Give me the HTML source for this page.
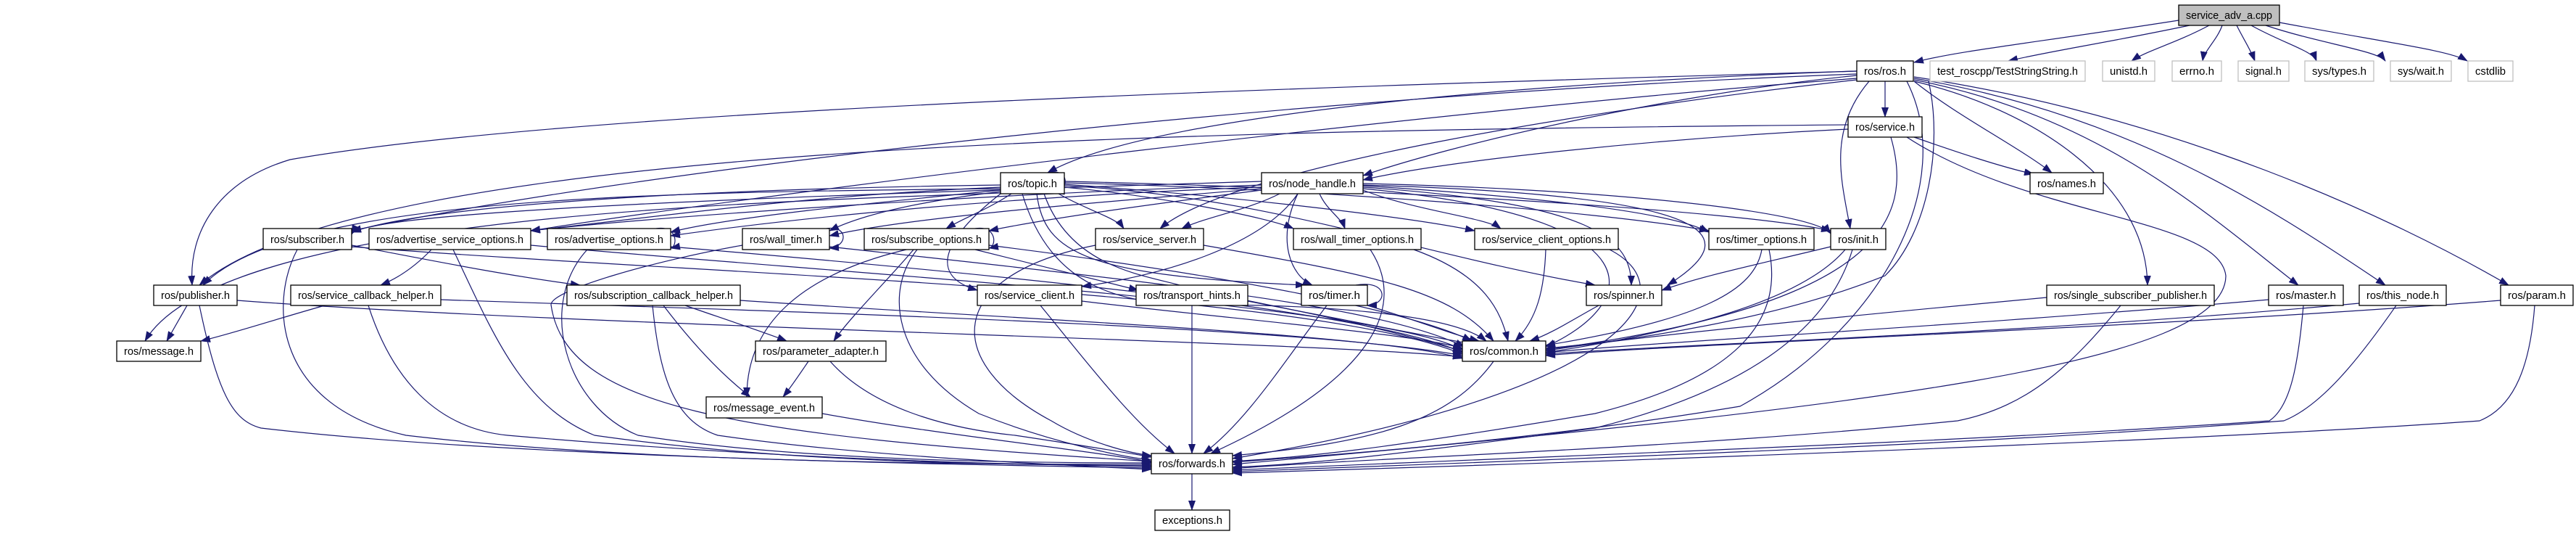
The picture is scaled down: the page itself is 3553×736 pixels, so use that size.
<!DOCTYPE html>
<html><head><meta charset="utf-8"><style>
html,body{margin:0;padding:0;background:#fff;}
svg{display:block;}
text{font-family:"Liberation Sans",sans-serif;font-size:15px;fill:#000;}
.e{fill:none;stroke:#191970;stroke-width:1.2;marker-end:url(#a);}
.n{fill:#fff;stroke:#000;stroke-width:1.3;}
.g{fill:#fff;stroke:#bfbfbf;stroke-width:1.3;}
</style></head><body>
<svg width="3553" height="736" viewBox="0 0 3553 736" xmlns="http://www.w3.org/2000/svg">
<defs><marker id="a" markerWidth="14" markerHeight="10" refX="13" refY="5" orient="auto" markerUnits="userSpaceOnUse"><path d="M0,0 L14,5 L0,10 z" fill="#191970"/></marker></defs>
<g>
<!-- service_adv edges -->
<path class="e" d="M3005 28 C2800 60 2700 70 2640 86"/>
<path class="e" d="M3020 35 C2900 60 2830 70 2770 84"/>
<path class="e" d="M3047 35 C3000 60 2960 70 2940 84"/>
<path class="e" d="M3065 35 C3058 55 3040 70 3038 84"/>
<path class="e" d="M3085 35 C3095 55 3105 70 3110 84"/>
<path class="e" d="M3105 35 C3150 60 3190 70 3195 84"/>
<path class="e" d="M3125 35 C3200 60 3280 70 3290 84"/>
<path class="e" d="M3144 31 C3300 60 3380 70 3403 84"/>
<!-- ros.h edges -->
<path class="e" d="M2600 112 L2600 161"/>
<path class="e" d="M2640 112 C2700 160 2780 200 2830 238"/>
<path class="e" d="M2578 112 C2520 180 2540 250 2552 315"/>
<path class="e" d="M2561 98 C2200 110 1600 150 1445 238"/>
<path class="e" d="M2561 104 C2300 130 2000 200 1880 242"/>
<path class="e" d="M2561 98 C1800 120 800 150 400 220 C300 250 260 320 265 393"/>
<path class="e" d="M2561 102 C1800 130 900 230 485 318"/>
<path class="e" d="M2561 108 C2000 150 1100 260 732 318"/>
<path class="e" d="M2561 110 C2200 150 1700 230 1600 315"/>
<path class="e" d="M2640 112 C2800 150 2960 250 2962 393"/>
<path class="e" d="M2640 110 C2900 160 3050 300 3170 393"/>
<path class="e" d="M2640 108 C2950 160 3150 300 3290 393"/>
<path class="e" d="M2640 106 C3000 160 3300 300 3460 393"/>
<path class="e" d="M2660 112 C2680 200 2660 320 2600 380 C2450 440 2250 470 2132 480"/>
<path class="e" d="M2630 112 C2700 250 2600 450 2400 560 C2100 610 1800 630 1700 637"/>
<!-- service.h edges -->
<path class="e" d="M2640 189 C2700 210 2760 230 2805 240"/>
<path class="e" d="M2549 178 C2300 190 2000 220 1880 248"/>
<path class="e" d="M2549 172 C1600 180 500 200 275 393"/>
<path class="e" d="M2608 189 C2640 300 2600 420 2132 482"/>
<path class="e" d="M2630 189 C2800 300 3060 300 3070 380 C3070 500 2600 560 1700 640"/>
<!-- topic.h edges -->
<path class="e" d="M1380 255 C1000 260 600 280 485 320"/>
<path class="e" d="M1380 258 C1100 270 900 300 732 318"/>
<path class="e" d="M1380 262 C1200 280 1000 300 925 320"/>
<path class="e" d="M1380 264 C1250 280 1180 300 1144 318"/>
<path class="e" d="M1395 267 C1360 290 1330 300 1305 315"/>
<path class="e" d="M1460 267 C1500 290 1540 300 1550 315"/>
<path class="e" d="M1468 258 C1600 270 1750 300 1784 315"/>
<path class="e" d="M1468 254 C1700 270 1950 300 2034 318"/>
<path class="e" d="M1468 252 C1800 260 2200 290 2357 318"/>
<path class="e" d="M1468 250 C1900 260 2400 290 2525 318"/>
<path class="e" d="M1380 260 C900 265 400 270 280 393"/>
<path class="e" d="M1380 266 C1000 280 300 300 200 470"/>
<path class="e" d="M1380 267 C1300 330 1280 380 1348 400"/>
<path class="e" d="M1430 267 C1440 350 1500 380 1800 393"/>
<path class="e" d="M1440 267 C1480 380 1600 380 1650 400 C1800 430 1900 450 2017 484"/>
<path class="e" d="M1468 256 C1750 270 1950 350 2200 393"/>
<path class="e" d="M1410 267 C1450 400 1550 420 1660 420 C1800 420 2000 430 2050 470"/>
<!-- node_handle edges -->
<path class="e" d="M1740 255 C1300 270 900 300 732 318"/>
<path class="e" d="M1740 258 C1400 270 1100 300 925 325"/>
<path class="e" d="M1740 260 C1500 280 1250 300 1144 325"/>
<path class="e" d="M1740 262 C1600 280 1450 300 1364 318"/>
<path class="e" d="M1765 267 C1720 290 1660 300 1630 315"/>
<path class="e" d="M1820 267 C1830 290 1850 300 1855 315"/>
<path class="e" d="M1880 262 C1950 290 2050 300 2070 315"/>
<path class="e" d="M1880 256 C2100 270 2300 290 2357 320"/>
<path class="e" d="M1880 253 C2200 260 2500 290 2525 322"/>
<path class="e" d="M1790 267 C1740 340 1600 380 1492 395"/>
<path class="e" d="M1790 267 C1760 330 1780 380 1810 393"/>
<path class="e" d="M1880 258 C2200 280 2250 330 2250 393"/>
<path class="e" d="M1880 255 C2400 270 2400 330 2300 393"/>
<path class="e" d="M1880 260 C2300 300 2260 420 2132 478"/>
<path class="e" d="M1740 250 C1100 270 500 290 485 323"/>
<!-- row4 edges -->
<path class="e" d="M410 344 C370 420 380 560 560 600 C900 640 1400 640 1588 640"/>
<path class="e" d="M485 338 C600 360 700 380 800 393"/>
<path class="e" d="M485 340 C1000 380 1800 400 2017 488"/>
<path class="e" d="M595 344 C570 370 545 385 525 393"/>
<path class="e" d="M625 344 C680 460 720 560 820 600 C1100 640 1400 640 1588 642"/>
<path class="e" d="M732 338 C1200 380 1900 420 2017 482"/>
<path class="e" d="M810 344 C740 420 780 560 880 600 C1100 635 1400 638 1588 638"/>
<path class="e" d="M925 340 C1400 380 1900 430 2017 486"/>
<path class="e" d="M1024 338 C900 360 760 400 760 420 C780 560 1000 600 1588 636"/>
<path class="e" d="M1144 340 C1600 390 1900 420 2020 478"/>
<path class="e" d="M1265 344 C1220 400 1230 500 1350 570 C1450 610 1550 630 1588 634"/>
<path class="e" d="M1260 344 C1230 380 1170 440 1150 470"/>
<path class="e" d="M1250 344 C1100 380 1030 450 1030 547"/>
<path class="e" d="M1345 344 C1450 370 1530 390 1570 400"/>
<path class="e" d="M1364 338 C1700 380 1950 430 2030 470"/>
<path class="e" d="M1511 338 C1300 380 1300 500 1450 580 C1500 610 1560 625 1588 628"/>
<path class="e" d="M1660 338 C1900 380 2000 400 2060 470"/>
<path class="e" d="M1890 344 C1940 420 1900 520 1670 625"/>
<path class="e" d="M1950 344 C2050 380 2070 430 2080 470"/>
<path class="e" d="M2132 344 C2130 400 2120 440 2090 470"/>
<path class="e" d="M2220 344 C2330 400 2250 540 1700 632"/>
<path class="e" d="M2430 344 C2420 400 2350 440 2132 476"/>
<path class="e" d="M2440 344 C2460 440 2400 520 2200 570 C1900 620 1800 630 1700 636"/>
<path class="e" d="M2525 340 C2400 370 2350 380 2292 400"/>
<path class="e" d="M2545 344 C2480 420 2300 460 2132 486"/>
<path class="e" d="M2555 344 C2520 460 2400 540 2200 590 C1900 630 1800 640 1700 644"/>
<!-- row5 edges -->
<path class="e" d="M258 421 L230 470"/>
<path class="e" d="M327 414 C800 450 1800 470 2017 492"/>
<path class="e" d="M275 421 C300 540 320 580 360 590 C700 630 1300 640 1588 645"/>
<path class="e" d="M448 421 C380 440 320 460 277 470"/>
<path class="e" d="M508 421 C540 520 600 590 700 600 C1100 635 1400 640 1588 643"/>
<path class="e" d="M608 413 C1100 430 1800 450 2017 490"/>
<path class="e" d="M945 421 C1000 440 1060 460 1085 470"/>
<path class="e" d="M915 421 C960 480 1000 520 1035 547"/>
<path class="e" d="M900 421 C910 520 930 580 990 600 C1200 630 1450 640 1588 647"/>
<path class="e" d="M1021 414 C1400 440 1900 460 2017 494"/>
<path class="e" d="M1435 421 C1500 500 1560 580 1620 625"/>
<path class="e" d="M1492 415 C1700 440 1950 460 2017 480"/>
<path class="e" d="M1644 421 L1644 625"/>
<path class="e" d="M1721 415 C1850 440 1950 460 2030 474"/>
<path class="e" d="M1830 421 C1770 500 1720 580 1660 625"/>
<path class="e" d="M1886 421 C1950 440 2000 460 2040 470"/>
<path class="e" d="M2205 421 C2170 440 2140 460 2110 470"/>
<path class="e" d="M2823 410 C2500 440 2200 470 2132 484"/>
<path class="e" d="M2925 421 C2860 500 2800 560 2700 580 C2300 620 1900 630 1700 646"/>
<path class="e" d="M3129 413 C2700 450 2300 470 2132 486"/>
<path class="e" d="M3177 421 C3170 500 3160 560 3130 580 C2700 610 2100 630 1700 648"/>
<path class="e" d="M3254 418 C2800 460 2300 475 2132 488"/>
<path class="e" d="M3305 421 C3250 500 3200 560 3150 580 C2700 615 2100 635 1700 650"/>
<path class="e" d="M3449 414 C3000 450 2300 475 2132 490"/>
<path class="e" d="M3496 421 C3490 500 3470 560 3420 580 C3000 610 2100 640 1700 652"/>
<!-- row6+ edges -->
<path class="e" d="M1115 498 C1100 520 1090 535 1080 547"/>
<path class="e" d="M1145 498 C1200 560 1300 590 1400 600 C1500 615 1560 625 1588 630"/>
<path class="e" d="M2060 498 C2000 580 1900 610 1700 628"/>
<path class="e" d="M1134 570 C1300 600 1500 620 1588 637"/>
<path class="e" d="M1644 653 L1644 703"/>
<!-- self loops -->
<path class="e" d="M1448 238 C1475 232 1475 262 1455 266"/>
<path class="e" d="M905 315 C935 310 935 340 925 342"/>
<path class="e" d="M1140 315 C1170 310 1170 340 1144 342"/>
<path class="e" d="M1345 315 C1375 310 1375 340 1364 342"/>
<path class="e" d="M1870 393 C1915 385 1915 420 1886 421"/>
</g>
<!-- nodes -->
<g>
<rect class="n" x="3005" y="7" width="139" height="28" style="fill:#bfbfbf"/><text x="3015" y="26" textLength="119" lengthAdjust="spacingAndGlyphs">service_adv_a.cpp</text>
<rect class="n" x="2561" y="84" width="78" height="28"/><text x="2571" y="103" textLength="58" lengthAdjust="spacingAndGlyphs">ros/ros.h</text>
<rect class="g" x="2662" y="84" width="214" height="28"/><text x="2672" y="103" textLength="194" lengthAdjust="spacingAndGlyphs">test_roscpp/TestStringString.h</text>
<rect class="g" x="2900" y="84" width="72" height="28"/><text x="2910" y="103" textLength="52" lengthAdjust="spacingAndGlyphs">unistd.h</text>
<rect class="g" x="2996" y="84" width="68" height="28"/><text x="3006" y="103" textLength="48" lengthAdjust="spacingAndGlyphs">errno.h</text>
<rect class="g" x="3087" y="84" width="70" height="28"/><text x="3097" y="103" textLength="50" lengthAdjust="spacingAndGlyphs">signal.h</text>
<rect class="g" x="3179" y="84" width="95" height="28"/><text x="3189" y="103" textLength="75" lengthAdjust="spacingAndGlyphs">sys/types.h</text>
<rect class="g" x="3297" y="84" width="84" height="28"/><text x="3307" y="103" textLength="64" lengthAdjust="spacingAndGlyphs">sys/wait.h</text>
<rect class="g" x="3404" y="84" width="62" height="28"/><text x="3414" y="103" textLength="42" lengthAdjust="spacingAndGlyphs">cstdlib</text>
<rect class="n" x="2549" y="161" width="102" height="28"/><text x="2559" y="180" textLength="82" lengthAdjust="spacingAndGlyphs">ros/service.h</text>
<rect class="n" x="1380" y="238" width="88" height="29"/><text x="1390" y="258" textLength="68" lengthAdjust="spacingAndGlyphs">ros/topic.h</text>
<rect class="n" x="1740" y="238" width="140" height="29"/><text x="1750" y="258" textLength="120" lengthAdjust="spacingAndGlyphs">ros/node_handle.h</text>
<rect class="n" x="2800" y="238" width="101" height="29"/><text x="2810" y="258" textLength="81" lengthAdjust="spacingAndGlyphs">ros/names.h</text>
<rect class="n" x="363" y="315" width="122" height="29"/><text x="373" y="335" textLength="102" lengthAdjust="spacingAndGlyphs">ros/subscriber.h</text>
<rect class="n" x="509" y="315" width="223" height="29"/><text x="519" y="335" textLength="203" lengthAdjust="spacingAndGlyphs">ros/advertise_service_options.h</text>
<rect class="n" x="755" y="315" width="170" height="29"/><text x="765" y="335" textLength="150" lengthAdjust="spacingAndGlyphs">ros/advertise_options.h</text>
<rect class="n" x="1024" y="315" width="120" height="29"/><text x="1034" y="335" textLength="100" lengthAdjust="spacingAndGlyphs">ros/wall_timer.h</text>
<rect class="n" x="1192" y="315" width="172" height="29"/><text x="1202" y="335" textLength="152" lengthAdjust="spacingAndGlyphs">ros/subscribe_options.h</text>
<rect class="n" x="1511" y="315" width="149" height="29"/><text x="1521" y="335" textLength="129" lengthAdjust="spacingAndGlyphs">ros/service_server.h</text>
<rect class="n" x="1784" y="315" width="176" height="29"/><text x="1794" y="335" textLength="156" lengthAdjust="spacingAndGlyphs">ros/wall_timer_options.h</text>
<rect class="n" x="2034" y="315" width="198" height="29"/><text x="2044" y="335" textLength="178" lengthAdjust="spacingAndGlyphs">ros/service_client_options.h</text>
<rect class="n" x="2357" y="315" width="145" height="29"/><text x="2367" y="335" textLength="125" lengthAdjust="spacingAndGlyphs">ros/timer_options.h</text>
<rect class="n" x="2525" y="315" width="76" height="29"/><text x="2535" y="335" textLength="56" lengthAdjust="spacingAndGlyphs">ros/init.h</text>
<rect class="n" x="212" y="393" width="115" height="28"/><text x="222" y="412" textLength="95" lengthAdjust="spacingAndGlyphs">ros/publisher.h</text>
<rect class="n" x="401" y="393" width="207" height="28"/><text x="411" y="412" textLength="187" lengthAdjust="spacingAndGlyphs">ros/service_callback_helper.h</text>
<rect class="n" x="782" y="393" width="239" height="28"/><text x="792" y="412" textLength="219" lengthAdjust="spacingAndGlyphs">ros/subscription_callback_helper.h</text>
<rect class="n" x="1348" y="393" width="144" height="28"/><text x="1358" y="412" textLength="124" lengthAdjust="spacingAndGlyphs">ros/service_client.h</text>
<rect class="n" x="1567" y="393" width="154" height="28"/><text x="1577" y="412" textLength="134" lengthAdjust="spacingAndGlyphs">ros/transport_hints.h</text>
<rect class="n" x="1795" y="393" width="91" height="28"/><text x="1805" y="412" textLength="71" lengthAdjust="spacingAndGlyphs">ros/timer.h</text>
<rect class="n" x="2188" y="393" width="104" height="28"/><text x="2198" y="412" textLength="84" lengthAdjust="spacingAndGlyphs">ros/spinner.h</text>
<rect class="n" x="2823" y="393" width="231" height="28"/><text x="2833" y="412" textLength="211" lengthAdjust="spacingAndGlyphs">ros/single_subscriber_publisher.h</text>
<rect class="n" x="3129" y="393" width="103" height="28"/><text x="3139" y="412" textLength="83" lengthAdjust="spacingAndGlyphs">ros/master.h</text>
<rect class="n" x="3254" y="393" width="120" height="28"/><text x="3264" y="412" textLength="100" lengthAdjust="spacingAndGlyphs">ros/this_node.h</text>
<rect class="n" x="3449" y="393" width="100" height="28"/><text x="3459" y="412" textLength="80" lengthAdjust="spacingAndGlyphs">ros/param.h</text>
<rect class="n" x="161" y="470" width="116" height="28"/><text x="171" y="489" textLength="96" lengthAdjust="spacingAndGlyphs">ros/message.h</text>
<rect class="n" x="1042" y="470" width="180" height="28"/><text x="1052" y="489" textLength="160" lengthAdjust="spacingAndGlyphs">ros/parameter_adapter.h</text>
<rect class="n" x="2017" y="470" width="115" height="28"/><text x="2027" y="489" textLength="95" lengthAdjust="spacingAndGlyphs">ros/common.h</text>
<rect class="n" x="974" y="547" width="160" height="29"/><text x="984" y="567" textLength="140" lengthAdjust="spacingAndGlyphs">ros/message_event.h</text>
<rect class="n" x="1588" y="625" width="112" height="28"/><text x="1598" y="644" textLength="92" lengthAdjust="spacingAndGlyphs">ros/forwards.h</text>
<rect class="n" x="1593" y="703" width="103" height="28"/><text x="1603" y="722" textLength="83" lengthAdjust="spacingAndGlyphs">exceptions.h</text>
</g>
</svg>
</body></html>
